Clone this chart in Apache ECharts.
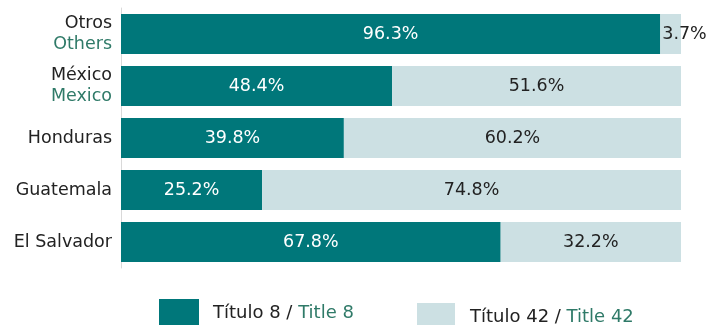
<!DOCTYPE html>
<html>
<head>
<meta charset="utf-8">
<script src="https://cdn.jsdelivr.net/npm/echarts@6/dist/echarts.min.js"></script>
<style>
  html, body { margin: 0; padding: 0; background: #fff; }
  #chart { width: 707px; height: 325px; }
</style>
</head>
<body>
<div id="chart"></div>
<script>
// Categories, bottom to top as drawn on the category axis
const categoriesEs = ['El Salvador', 'Guatemala', 'Honduras', 'México', 'Otros'];
const categoriesEn = ['', '', '', 'Mexico', 'Others'];
const title8 = [67.8, 25.2, 39.8, 48.4, 96.3];
const title42 = [32.2, 74.8, 60.2, 51.6, 3.7];
const seriesNamesEs = ['Título 8', 'Título 42'];
const seriesNamesEn = ['Title 8', 'Title 42'];

const FONT = 'DejaVu Sans';
const DARK = '#00777a';
const LIGHT = '#cce0e3';
const TEAL_TEXT = '#2f7a68';
const FS = 17.5;

const chart = echarts.init(document.getElementById('chart'), null, { renderer: 'canvas' });

function fmt(v) { return v.toFixed(1) + '%'; }

const lightData = title42.map((v, i) => {
  const item = { value: v };
  if (v < 8) {
    item.label = { position: 'insideLeft', distance: 2 };
  }
  return item;
});

const option = {
  animation: false,
  textStyle: { fontFamily: FONT },
  grid: { left: 121, right: 26, top: 8, bottom: 57, containLabel: false },
  xAxis: {
    type: 'value', min: 0, max: 100,
    show: false
  },
  yAxis: {
    type: 'category',
    data: categoriesEs,
    axisLine: { show: true, lineStyle: { color: '#d9d9d9', width: 1 } },
    axisTick: { show: false },
    axisLabel: {
      margin: 9,
      fontFamily: FONT,
      fontSize: FS,
      color: '#222',
      formatter: function (val, idx) {
        const en = categoriesEn[idx];
        return en ? '{es|' + val + '}\n{en|' + en + '}' : '{es|' + val + '}';
      },
      rich: {
        es: { fontFamily: FONT, fontSize: FS, color: '#222', lineHeight: 21, align: 'right' },
        en: { fontFamily: FONT, fontSize: FS, color: TEAL_TEXT, lineHeight: 21, align: 'right' }
      }
    }
  },
  legend: [
    {
      data: [seriesNamesEs[0]],
      left: 159, top: 299,
      padding: 0,
      itemWidth: 40, itemHeight: 28,
      icon: 'rect',
      formatter: function (name) { return '{es|' + name + ' / }{en|' + seriesNamesEn[0] + '}'; },
      textStyle: {
        padding: [1, 0, 0, 9],
        rich: {
          es: { fontFamily: FONT, fontSize: 18, color: '#222' },
          en: { fontFamily: FONT, fontSize: 18, color: TEAL_TEXT }
        }
      }
    },
    {
      data: [seriesNamesEs[1]],
      left: 417, top: 303,
      padding: 0,
      itemWidth: 38, itemHeight: 26,
      icon: 'rect',
      formatter: function (name) { return '{es|' + name + ' / }{en|' + seriesNamesEn[1] + '}'; },
      textStyle: {
        padding: [2, 0, 0, 10],
        rich: {
          es: { fontFamily: FONT, fontSize: 18, color: '#222' },
          en: { fontFamily: FONT, fontSize: 18, color: TEAL_TEXT }
        }
      }
    }
  ],
  series: [
    {
      name: seriesNamesEs[0],
      type: 'bar',
      stack: 'total',
      barWidth: 40,
      itemStyle: { color: DARK },
      label: {
        show: true, position: 'inside',
        color: '#fff', fontFamily: FONT, fontSize: FS,
        formatter: p => fmt(p.value)
      },
      data: title8
    },
    {
      name: seriesNamesEs[1],
      type: 'bar',
      stack: 'total',
      barWidth: 40,
      itemStyle: { color: LIGHT },
      label: {
        show: true, position: 'inside',
        color: '#222', fontFamily: FONT, fontSize: FS,
        formatter: p => fmt(p.value)
      },
      data: lightData
    }
  ]
};

chart.setOption(option);
</script>
</body>
</html>
